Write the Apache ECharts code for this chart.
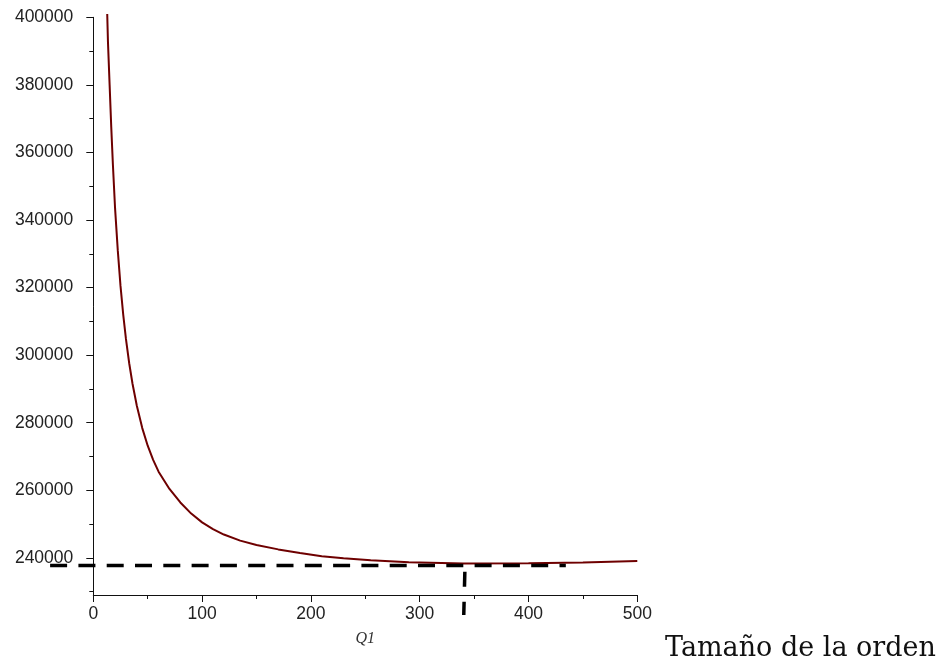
<!DOCTYPE html>
<html>
<head>
<meta charset="utf-8">
<script src="https://cdn.jsdelivr.net/npm/echarts@6/dist/echarts.min.js"></script>
<style>
  html, body { margin: 0; padding: 0; background: #fff; }
  #chart { width: 943px; height: 667px; }
</style>
</head>
<body>
<div id="chart"></div>
<script>
// curve points: order size Q1 -> total cost
const q1Values = [12.8, 13.5, 15, 16.5, 18, 20, 22.5, 25, 27.5, 30, 33, 36, 40, 45, 50, 55, 60, 70, 80, 90, 100, 110, 120, 135, 150, 170, 190, 210, 230, 255, 290, 340, 400, 450, 500];
const costValues = [401000, 392500, 380000, 367500, 356500, 343500, 331000, 320500, 312000, 304800, 297600, 291600, 285000, 278400, 273200, 269000, 265500, 260400, 256400, 253100, 250500, 248500, 246900, 245100, 243800, 242500, 241400, 240500, 239900, 239300, 238700, 238350, 238400, 238650, 239100];

// dashed guide lines (minimum cost level and optimal order size)
const minCostLine = [[-39.7, 237700], [434.3, 237700]];
const optimalQLine = [[341.5, 235900], [340.5, 223100]];

// tick values
const yLabelValues = [240000, 260000, 280000, 300000, 320000, 340000, 360000, 380000, 400000];
const yMinorValues = [230000, 250000, 270000, 290000, 310000, 330000, 350000, 370000, 390000];

const curve = q1Values.map((q, i) => [q, costValues[i]]);

const chart = echarts.init(document.getElementById('chart'));
const labelFont = { fontFamily: 'Liberation Sans', fontSize: 17.5, color: '#222' };
const tickStyle = { color: '#111', width: 1 };

chart.setOption({
  backgroundColor: '#fff',
  animation: false,
  grid: [
    { left: 93.3, right: 305.7, top: 17.3, bottom: 72 },
    // same scale, wider box: lets the guide lines run past the axes
    { left: 6.26, right: 305.7, top: 17.3, bottom: 7.8 }
  ],
  xAxis: [
    {
      type: 'value',
      gridIndex: 0,
      min: 0,
      max: 500,
      interval: 100,
      name: 'Q1',
      nameLocation: 'middle',
      nameGap: 36,
      nameTextStyle: { fontFamily: 'Liberation Serif', fontStyle: 'italic', fontSize: 16, color: '#333' },
      axisLine: { show: true, lineStyle: tickStyle },
      axisTick: { show: true, length: 7, lineStyle: tickStyle },
      minorTick: { show: true, splitNumber: 2, length: 4, lineStyle: tickStyle },
      axisLabel: Object.assign({ margin: 10, formatter: v => String(v) }, labelFont),
      splitLine: { show: false }
    },
    { type: 'value', gridIndex: 1, min: -80, max: 500, show: false }
  ],
  yAxis: [
    {
      type: 'value',
      gridIndex: 0,
      min: 229000,
      max: 400000,
      axisLine: { show: true, lineStyle: tickStyle },
      axisTick: { show: true, length: 7, customValues: yLabelValues, lineStyle: tickStyle },
      axisLabel: Object.assign({ margin: 20, customValues: yLabelValues, formatter: v => String(v) }, labelFont),
      splitLine: { show: false }
    },
    {
      type: 'value',
      gridIndex: 0,
      min: 229000,
      max: 400000,
      position: 'left',
      axisLine: { show: false },
      axisTick: { show: true, length: 4, customValues: yMinorValues, lineStyle: tickStyle },
      axisLabel: { show: false },
      splitLine: { show: false }
    },
    { type: 'value', gridIndex: 1, min: 210000, max: 400000, show: false }
  ],
  graphic: [
    {
      type: 'text',
      left: 665,
      top: 635,
      style: { text: 'Tamaño de la orden', fontFamily: 'DejaVu Serif', fontSize: 27, fill: '#111' }
    }
  ],
  series: [
    {
      type: 'line',
      xAxisIndex: 0,
      yAxisIndex: 0,
      data: curve,
      showSymbol: false,
      clip: false,
      lineStyle: { color: '#6e0000', width: 2 }
    },
    {
      type: 'line',
      xAxisIndex: 1,
      yAxisIndex: 2,
      data: minCostLine,
      showSymbol: false,
      clip: false,
      lineStyle: { color: '#000', width: 3.5, type: [17, 11.3] }
    },
    {
      type: 'line',
      xAxisIndex: 1,
      yAxisIndex: 2,
      data: optimalQLine,
      showSymbol: false,
      clip: false,
      lineStyle: { color: '#000', width: 3.5, type: [15, 15] }
    }
  ]
});
</script>
</body>
</html>
